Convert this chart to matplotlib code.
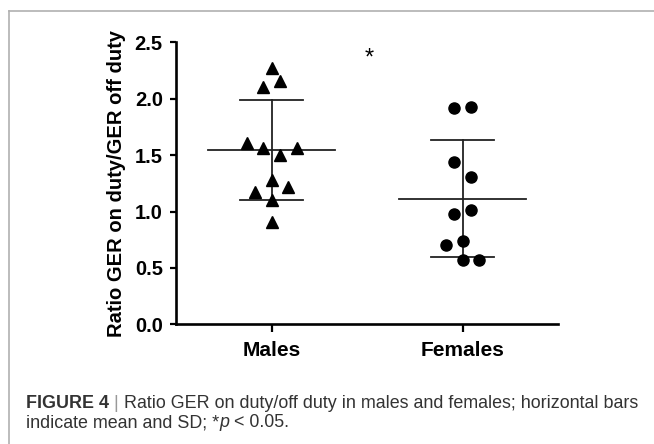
import numpy as np
import matplotlib
matplotlib.use('Agg')
import matplotlib.pyplot as plt
from matplotlib.lines import Line2D

groups = ['Males', 'Females']

males = [2.27, 2.16, 2.10, 1.605, 1.566, 1.56, 1.50, 1.28, 1.22, 1.175, 1.10, 0.91]
males_jitter = [0, 1, -1, -3, -1, 3, 1, 0, 2, -2, 0, 0]

females = [1.918, 1.924, 1.44, 1.306, 1.013, 0.978, 0.741, 0.703, 0.57, 0.57]
females_jitter = [-1, 1, -1, 1, 1, -1, 0, -2, 0, 2]

means = [1.543, 1.113]
sds = [0.443, 0.518]

yticks = [0.0, 0.5, 1.0, 1.5, 2.0, 2.5]

plt.rcParams['font.family'] = ['Liberation Sans', 'DejaVu Sans']

fig = plt.figure(figsize=(6.54, 4.44), dpi=100)
ax = fig.add_axes([176 / 654, 1 - 324.3 / 444, (558.3 - 176) / 654, (324.3 - 42.3) / 444])

step = 0.0436
xm = 1 + step * np.array(males_jitter)
xf = 2 + step * np.array(females_jitter)
ax.plot(xm, males, '^', color='black', ms=8.5, ls='none', zorder=3)
ax.plot(xf, females, 'o', color='black', ms=8, ls='none', zorder=3)

for i, (m, s) in enumerate(zip(means, sds)):
    x = i + 1
    ax.plot([x - 0.333, x + 0.333], [m, m], color='#222222', lw=1.3, zorder=2)
    ax.plot([x - 0.166, x + 0.166], [m + s, m + s], color='#222222', lw=1.3, zorder=2)
    ax.plot([x - 0.166, x + 0.166], [m - s, m - s], color='#222222', lw=1.3, zorder=2)
    ax.plot([x, x], [m - s, m + s], color='#222222', lw=1.3, zorder=2)

ax.text(1.51, 2.36, '*', fontsize=17, ha='center', va='center')

ax.set_xlim(0.5, 2.5)
ax.set_ylim(0, 2.5)
ax.set_xticks([1, 2])
ax.set_xticklabels(groups, fontsize=15, fontweight='bold')
ax.set_yticks(yticks)
ax.set_yticklabels([f'{v:.1f}' for v in yticks], fontsize=14.5, fontweight='bold')
ax.tick_params(axis='y', length=4.5, width=1.6, pad=5)
ax.tick_params(axis='x', length=6, width=1.6, pad=6)
ax.set_ylabel('Ratio GER on duty/GER off duty', fontsize=14.5, fontweight='bold', labelpad=6)
for side in ['top', 'right']:
    ax.spines[side].set_visible(False)
for side in ['left', 'bottom']:
    ax.spines[side].set_linewidth(1.9)

# frame around the figure panel
fig.add_artist(Line2D([9 / 654, 1], [1 - 11 / 444, 1 - 11 / 444], color='#b0b0b0', lw=1.2))
fig.add_artist(Line2D([9 / 654, 9 / 654], [0, 1 - 11 / 444], color='#b0b0b0', lw=1.2))

# caption built from pieces
renderer = fig.canvas.get_renderer()


def chain(pieces, x, y):
    for txt, kw in pieces:
        t = fig.text(x / 654, 1 - y / 444, txt, va='baseline', ha='left', fontsize=12.9, **kw)
        bb = t.get_window_extent(renderer)
        x = bb.x1


cap = '#333333'
chain([('FIGURE 4', dict(fontweight='bold', color=cap)),
       (' | ', dict(color='#999999')),
       ('Ratio GER on duty/off duty in males and females; horizontal bars', dict(color=cap))],
      26, 408)
chain([('indicate mean and SD; *', dict(color=cap)),
       ('p', dict(style='italic', color=cap)),
       (' < 0.05.', dict(color=cap))],
      26, 427)

fig.savefig('out.png', dpi=100)
